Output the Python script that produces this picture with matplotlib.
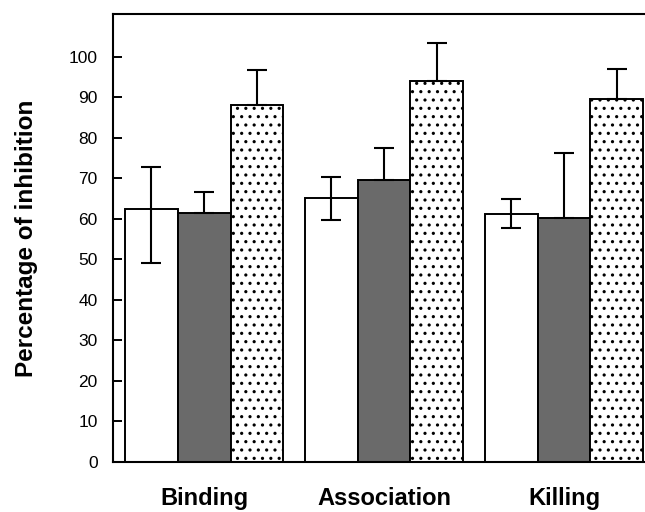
import numpy as np
import matplotlib
matplotlib.use('Agg')
import matplotlib.pyplot as plt

plt.rcParams['font.family'] = ['Liberation Sans', 'DejaVu Sans']
plt.rcParams['hatch.linewidth'] = 1.1

categories = ['Binding', 'Association', 'Killing']
white_vals = [62.5, 65.1, 61.2]
white_err_up = [10.3, 5.3, 3.8]
white_err_down = [13.5, 5.4, 3.5]
dark_vals = [61.4, 69.6, 60.3]
dark_err_up = [5.3, 8.0, 16.0]
dotted_vals = [88.1, 94.1, 89.5]
dotted_err_up = [8.7, 9.3, 7.5]

fig = plt.figure(figsize=(6.45, 5.12), dpi=100)
ax = fig.add_axes([0.1752, 0.0977, 0.8248, 0.875])

x = np.arange(len(categories))
w = 0.294
zeros = [0, 0, 0]

ax.bar(x - w, white_vals, w, color='white', edgecolor='black', linewidth=1.4, zorder=2)
ax.bar(x, dark_vals, w, color='#6a6a6a', edgecolor='black', linewidth=1.4, zorder=2)
ax.bar(x + w, dotted_vals, w, color='white', edgecolor='black', linewidth=1.4,
       hatch='..', zorder=2)

err_kw = dict(fmt='none', ecolor='black', elinewidth=1.5, capsize=7.5, capthick=1.5, zorder=3)
ax.errorbar(x - w, white_vals, yerr=[white_err_down, white_err_up], **err_kw)
ax.errorbar(x, dark_vals, yerr=[zeros, dark_err_up], **err_kw)
ax.errorbar(x + w, dotted_vals, yerr=[zeros, dotted_err_up], **err_kw)

ax.set_xlim(-0.506, 2.45)
ax.set_ylim(0, 110.6)
ax.set_yticks(range(0, 101, 10))
ax.tick_params(axis='y', direction='in', length=6.5, width=1.4, labelsize=12.5, pad=11)
ax.set_xticks(x)
ax.set_xticklabels(categories, fontsize=17, fontweight='bold')
ax.tick_params(axis='x', length=0, pad=18)
ax.set_ylabel('Percentage of inhibition', fontsize=17.5, fontweight='bold', labelpad=22)

for s in ['left', 'bottom', 'top']:
    ax.spines[s].set_linewidth(1.5)
ax.spines['right'].set_visible(False)

fig.savefig('out.png', dpi=100)
